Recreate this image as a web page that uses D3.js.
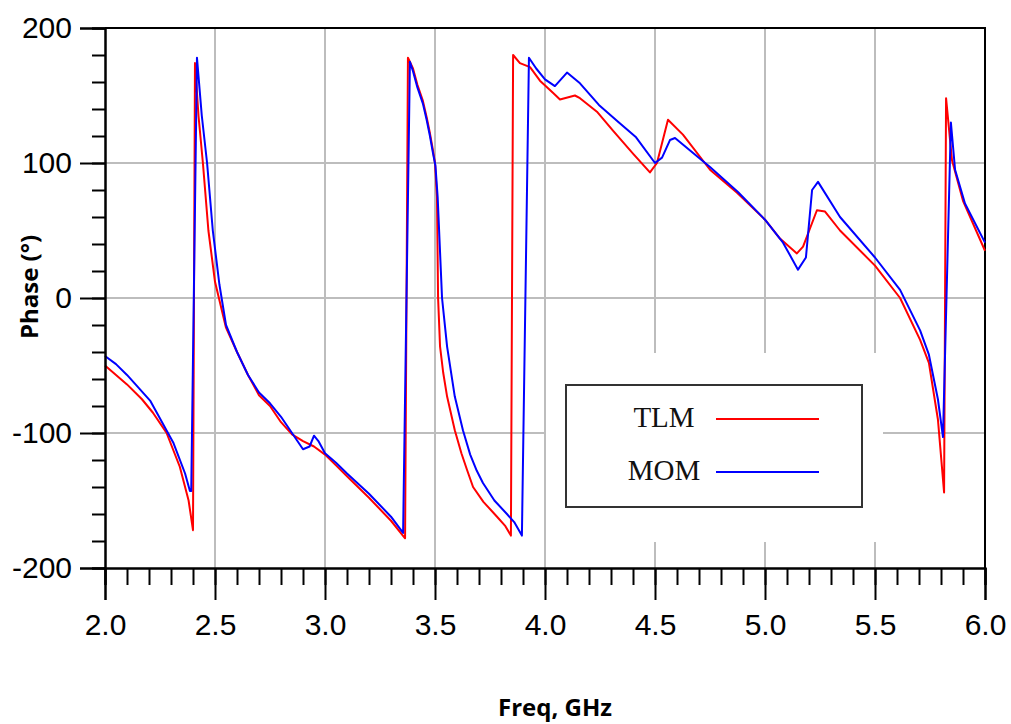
<!DOCTYPE html>
<html>
<head>
<meta charset="utf-8">
<script src="https://cdn.jsdelivr.net/npm/d3@7"></script>
<style>
  body { margin: 0; background: #fff; }
  svg { display: block; }
</style>
</head>
<body>
<svg id="chart" width="1011" height="724"></svg>
<script>
// ---- data ----
const xTicks = [2.0, 2.5, 3.0, 3.5, 4.0, 4.5, 5.0, 5.5, 6.0];
const yTicks = [-200, -100, 0, 100, 200];

const tlmFreq = [2.0, 2.05, 2.1, 2.168, 2.218, 2.28, 2.34, 2.38, 2.4, 2.409, 2.425, 2.445, 2.47, 2.5, 2.55, 2.6, 2.65, 2.7, 2.75, 2.8, 2.85, 2.9, 2.95, 3.0, 3.05, 3.1, 3.2, 3.3, 3.364,
  3.377, 3.4, 3.42, 3.445, 3.462, 3.477, 3.49, 3.5, 3.509, 3.514, 3.523, 3.537, 3.555, 3.59, 3.62, 3.645, 3.673, 3.72, 3.782, 3.82, 3.845,
  3.855, 3.886, 3.932, 3.977, 4.036, 4.068, 4.136, 4.159, 4.236, 4.309, 4.4, 4.477, 4.509, 4.559, 4.627, 4.75, 4.873, 5.0, 5.068, 5.145, 5.173, 5.236, 5.273, 5.341, 5.5, 5.614, 5.705, 5.745, 5.786, 5.814,
  5.823, 5.85, 5.9, 6.0];
const tlmPhase = [-50, -57, -64, -75, -85, -100, -125, -150, -172, 174, 135, 100, 50, 12, -22, -40, -57, -72, -80, -92, -101, -106, -110, -116, -124, -132, -148, -165, -178,
  178, 170, 158, 146, 134, 122, 110, 100, 75, 0, -36, -55, -73, -98, -115, -127, -140, -151, -162, -169, -176,
  180, 174, 171, 161, 152, 147, 150, 148, 138, 124, 107, 93, 100, 132, 121, 95, 78, 58, 44, 33, 38, 65, 64, 50, 24, 0, -31, -48, -90, -144,
  148, 102, 72, 35];

const momFreq = [2.0, 2.05, 2.1, 2.15, 2.205, 2.31, 2.364, 2.386, 2.392, 2.418, 2.44, 2.464, 2.49, 2.52, 2.55, 2.6, 2.65, 2.7, 2.75, 2.8, 2.85, 2.9, 2.93, 2.95, 2.97, 3.0, 3.05, 3.1, 3.2, 3.3, 3.355,
  3.386, 3.4, 3.42, 3.445, 3.462, 3.477, 3.49, 3.502, 3.512, 3.532, 3.555, 3.59, 3.627, 3.66, 3.69, 3.718, 3.77, 3.827, 3.86, 3.895,
  3.927, 3.96, 4.0, 4.045, 4.1, 4.159, 4.245, 4.336, 4.414, 4.5, 4.532, 4.568, 4.591, 4.75, 4.877, 5.0, 5.082, 5.15, 5.186, 5.214, 5.241, 5.341, 5.5, 5.614, 5.705, 5.745, 5.786, 5.809,
  5.845, 5.864, 5.909, 6.0];
const momPhase = [-43, -49, -57, -66, -76, -107, -130, -143, -143, 178, 135, 100, 50, 10, -20, -40, -57, -70, -78, -88, -100, -112, -110, -102, -106, -115, -122, -130, -145, -162, -174,
  175, 168, 156, 144, 132, 120, 108, 98, 75, 0, -36, -73, -98, -116, -128, -137, -150, -160, -166, -176,
  178, 170, 162, 157, 167, 159, 143, 130, 119, 100, 104, 117, 118.5, 97, 78.5, 58, 41, 21, 30, 80, 86, 60, 30, 6, -24, -42, -75, -103,
  130, 95, 70, 41];

const seriesNames = ["TLM", "MOM"];
const seriesColors = ["#ff0000", "#0000ff"];

// ---- layout ----
const svg = d3.select("#chart");
const plotLeft = 105, plotRight = 985, plotTop = 28, plotBottom = 568;

const xScale = d3.scaleLinear().domain([2, 6]).range([plotLeft, plotRight]);
const yScale = d3.scaleLinear().domain([-200, 200]).range([plotBottom, plotTop]);

// grid
const grid = svg.append("g").attr("class", "grid");
grid.selectAll("line.vx")
    .data(xTicks.slice(1, -1))
    .enter().append("line")
    .attr("x1", d => xScale(d)).attr("x2", d => xScale(d))
    .attr("y1", plotTop).attr("y2", plotBottom)
    .attr("stroke", "#bdbdbd").attr("stroke-width", 2);
grid.selectAll("line.hy")
    .data(yTicks.slice(1, -1))
    .enter().append("line")
    .attr("x1", plotLeft).attr("x2", plotRight)
    .attr("y1", d => yScale(d)).attr("y2", d => yScale(d))
    .attr("stroke", "#bdbdbd").attr("stroke-width", 2);

// white patch behind the legend (grid is broken there in the original)
svg.append("rect")
   .attr("x", xScale(4.0) + 1).attr("y", 353)
   .attr("width", 337).attr("height", 189)
   .attr("fill", "#fff");

// frame (top / right)
svg.append("path")
   .attr("d", `M${plotLeft},${plotTop}H${plotRight}V${plotBottom}`)
   .attr("fill", "none").attr("stroke", "#000").attr("stroke-width", 2);

// curves
const line = d3.line()
               .x(d => xScale(d[0]))
               .y(d => yScale(d[1]));

const series = [
    d3.zip(tlmFreq, tlmPhase),
    d3.zip(momFreq, momPhase)
];

series.forEach((pts, i) => {
    svg.append("path")
       .datum(pts)
       .attr("fill", "none")
       .attr("stroke", seriesColors[i])
       .attr("stroke-width", 2)
       .attr("stroke-linejoin", "round")
       .attr("d", line);
});

// axes
const tickFont = "'Liberation Sans', Arial, sans-serif";

function styleAxis(g) {
    g.select(".domain").attr("stroke", "#000").attr("stroke-width", 2);
    g.selectAll(".tick line").attr("stroke", "#000").attr("stroke-width", 2);
    g.selectAll(".tick text")
     .attr("fill", "#000")
     .style("font-family", tickFont)
     .style("font-size", "30px");
}

// minor ticks first
svg.append("g")
   .attr("transform", `translate(${plotLeft},0)`)
   .call(d3.axisLeft(yScale).tickValues(d3.range(-200, 201, 20)).tickSize(13).tickFormat(""))
   .call(styleAxis);
svg.append("g")
   .attr("transform", `translate(0,${plotBottom})`)
   .call(d3.axisBottom(xScale).tickValues(d3.range(20, 61).map(d => d / 10)).tickSize(17).tickFormat(""))
   .call(styleAxis);

// major ticks + labels (plain hyphen for negatives, like the original)
svg.append("g")
   .attr("transform", `translate(${plotLeft},0)`)
   .call(d3.axisLeft(yScale).tickValues(yTicks).tickSize(25).tickPadding(8).tickFormat(d => String(d)))
   .call(styleAxis);
svg.append("g")
   .attr("transform", `translate(0,${plotBottom})`)
   .call(d3.axisBottom(xScale).tickValues(xTicks).tickSize(32).tickPadding(14).tickFormat(d => d.toFixed(1)))
   .call(styleAxis);

// axis titles
const titleFont = "'Open Sans', 'Noto Sans', sans-serif";
svg.append("text")
   .attr("transform", "translate(38,287) rotate(-90)")
   .attr("text-anchor", "middle")
   .style("font-family", titleFont)
   .style("font-weight", "bold")
   .style("font-size", "24px")
   .text("Phase (°)");

svg.append("text")
   .attr("x", 555).attr("y", 716)
   .attr("text-anchor", "middle")
   .style("font-family", titleFont)
   .style("font-weight", "bold")
   .style("font-size", "24px")
   .text("Freq, GHz");

// legend
const legend = svg.append("g").attr("class", "legend");
legend.append("rect")
      .attr("x", 566).attr("y", 385)
      .attr("width", 296).attr("height", 122)
      .attr("fill", "#fff")
      .attr("stroke", "#333").attr("stroke-width", 2);

const legendY = [419, 472];
seriesNames.forEach((name, i) => {
    legend.append("text")
          .attr("x", 664).attr("y", legendY[i] + 8)
          .attr("text-anchor", "middle")
          .style("font-family", "'Liberation Serif', 'Times New Roman', serif")
          .style("font-size", "29px")
          .attr("fill", "#111")
          .text(name);
    legend.append("line")
          .attr("x1", 716).attr("x2", 819)
          .attr("y1", legendY[i]).attr("y2", legendY[i])
          .attr("stroke", seriesColors[i])
          .attr("stroke-width", 2);
});
</script>
</body>
</html>
